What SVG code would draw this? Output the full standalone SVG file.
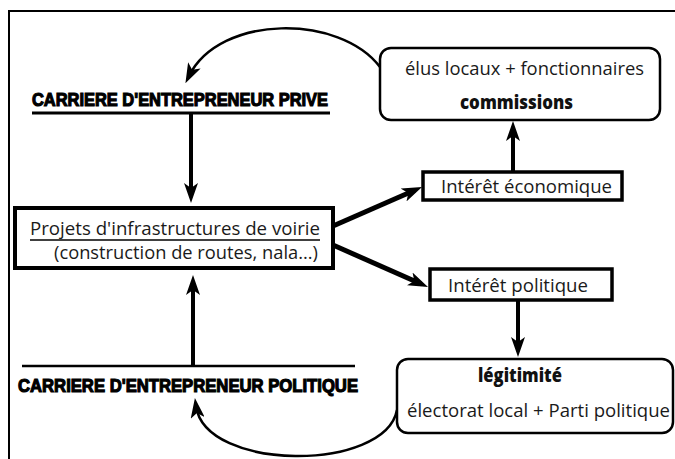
<svg xmlns="http://www.w3.org/2000/svg" width="675" height="459" viewBox="0 0 675 459">
<style>
.body{font-family:"Open Sans","Liberation Sans",sans-serif;font-size:19px;fill:#1a1a1a}
.bold{font-family:"Open Sans","Liberation Sans",sans-serif;font-size:19px;font-weight:800;fill:#111}
.head{font-family:"Liberation Sans",Arial,sans-serif;font-size:19px;font-weight:bold;fill:#000;stroke:#000;stroke-width:1.2}
.box{fill:#fff;stroke:#000}
.arr{fill:none;stroke:#000;marker-end:url(#ah)}
</style>
<defs>
<marker id="ah" viewBox="0 0 20 14" refX="12" refY="7" markerWidth="20" markerHeight="14" markerUnits="userSpaceOnUse" orient="auto">
<path d="M0,0 L20,7 L0,14 L5,7 z" fill="#000"/>
</marker>
</defs>
<rect width="675" height="459" fill="#fff"/>
<path d="M9,459 V11 H675" fill="none" stroke="#000" stroke-width="2"/>

<g id="connectors">
<path class="arr" d="M191,113 V195" stroke-width="4"/>
<path class="arr" d="M193,365 V283" stroke-width="4"/>
<path class="arr" d="M513,171 V129" stroke-width="4"/>
<path class="arr" d="M518,300 V349" stroke-width="4"/>
<path class="arr" d="M333,226 L414.7,190.2" stroke-width="5"/>
<path class="arr" d="M333,245 L420.7,283.8" stroke-width="5"/>
<path class="arr" d="M380,67 C340,14 220,14 189,76" stroke-width="2.5"/>
<path class="arr" d="M397,410 C385,472 205,472 196,406" stroke-width="2.5"/>
</g>

<g id="prive">
<text class="head" x="32" y="106" textLength="296" lengthAdjust="spacingAndGlyphs">CARRIERE D'ENTREPRENEUR PRIVE</text>
<line x1="32" y1="113" x2="330" y2="113" stroke="#000" stroke-width="3"/>
</g>

<g id="politique">
<line x1="22" y1="366" x2="355" y2="366" stroke="#000" stroke-width="2.5"/>
<text class="head" x="18" y="392" textLength="340" lengthAdjust="spacingAndGlyphs">CARRIERE D'ENTREPRENEUR POLITIQUE</text>
</g>

<g id="projets">
<rect class="box" x="15" y="208" width="318" height="60" stroke-width="4"/>
<text class="body" x="30" y="235" textLength="290" lengthAdjust="spacingAndGlyphs">Projets d'infrastructures de voirie</text>
<line x1="30" y1="240" x2="320" y2="240" stroke="#000" stroke-width="1.5"/>
<text class="body" x="54" y="259" textLength="264" lengthAdjust="spacingAndGlyphs">(construction de routes, nala...)</text>
</g>

<g id="elus">
<rect class="box" x="380" y="48" width="280" height="72" rx="11" stroke-width="2.5"/>
<text class="body" x="405" y="75" textLength="239" lengthAdjust="spacingAndGlyphs">élus locaux + fonctionnaires</text>
<text class="bold" x="460" y="109" textLength="113" lengthAdjust="spacingAndGlyphs">commissions</text>
</g>

<g id="economique">
<rect class="box" x="423" y="172" width="199" height="28" stroke-width="3.5"/>
<text class="body" x="441" y="193" textLength="171" lengthAdjust="spacingAndGlyphs">Intérêt économique</text>
</g>

<g id="interet-politique">
<rect class="box" x="430" y="269" width="182" height="31" stroke-width="3.5"/>
<text class="body" x="448" y="292" textLength="140" lengthAdjust="spacingAndGlyphs">Intérêt politique</text>
</g>

<g id="legitimite">
<rect class="box" x="397" y="359" width="276" height="74" rx="11" stroke-width="2.5"/>
<text class="bold" x="478" y="382" textLength="84" lengthAdjust="spacingAndGlyphs">légitimité</text>
<text class="body" x="407" y="417" textLength="263" lengthAdjust="spacingAndGlyphs">électorat local + Parti politique</text>
</g>
</svg>
